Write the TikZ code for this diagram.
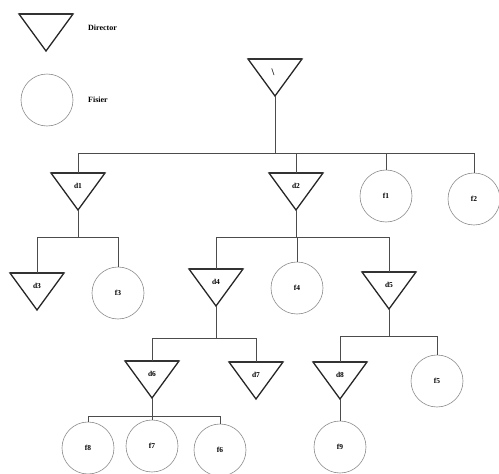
\documentclass[tikz,border=0pt]{standalone}
\usepackage{fontspec}
\setmainfont{Liberation Serif}
\tikzset{
  x=1pt, y=-1pt,
  dirtri/.style={draw=black!85, line width=1.3pt, line join=miter},
  dirtop/.style={draw=black!80, line width=2.2pt},
  conn/.style={draw=black!70, line width=0.9pt},
  fnode/.style={circle, draw=black!45, line width=0.6pt, minimum size=52pt, inner sep=0pt,
    font=\bfseries\fontsize{7.5}{9}\selectfont},
  lbl/.style={inner sep=0pt, font=\bfseries\fontsize{7.5}{9}\selectfont},
  legend/.style={anchor=west, inner sep=0pt, font=\bfseries\fontsize{8}{10}\selectfont}
}
% director: name, x, y of top edge, label
\newcommand\dirnode[4]{%
  \coordinate (#1-top) at (#2,#3);
  \coordinate (#1-tip) at (#2,#3+37);
  \draw[dirtri] (#2-27,#3) -- (#2+27,#3) -- (#1-tip) -- cycle;
  \draw[dirtop] (#2-27,#3) -- (#2+27,#3);
  \node[lbl] (#1) at (#2,#3+13) {#4};}
\begin{document}
\begin{tikzpicture}
\useasboundingbox (0,0) rectangle (499,474);

% legend
\dirnode{legdir}{46}{14}{}
\node[legend] (legdirtxt) at (88,28) {Director};
\node[fnode] (legfile) at (47,100) {};
\node[legend] (legfiletxt) at (88,100) {Fisier};

% directors
\dirnode{root}{275}{59}{}
\node[lbl, font=\bfseries\fontsize{10}{12}\selectfont] (rootlbl) at (273,72) {\textbackslash};
\dirnode{d1}{78}{173}{d1}
\dirnode{d2}{296}{173}{d2}
\dirnode{d3}{37}{273}{d3}
\dirnode{d4}{216}{269}{d4}
\dirnode{d5}{389}{272}{d5}
\dirnode{d6}{152}{361}{d6}
\dirnode{d7}{256}{362}{d7}
\dirnode{d8}{340}{362}{d8}

% files
\node[fnode] (f1) at (386,196) {f1};
\node[fnode] (f2) at (474,199) {f2};
\node[fnode] (f3) at (118,293) {f3};
\node[fnode] (f4) at (297,288) {f4};
\node[fnode] (f5) at (437,381) {f5};
\node[fnode] (f8) at (88,448) {f8};
\node[fnode] (f7) at (152,446) {f7};
\node[fnode] (f6) at (220,450) {f6};
\node[fnode] (f9) at (340,447) {f9};

% branch points
\coordinate (b0) at (275,153);
\coordinate (b1) at (78,237);
\coordinate (b2) at (296,237);
\coordinate (b4) at (216,338);
\coordinate (b5) at (389,336);
\coordinate (b6) at (152,416);

% connectors
\draw[conn] (root-tip) -- (b0);
\draw[conn] (b0) -| (d1-top);
\draw[conn] (b0) -| (d2-top);
\draw[conn] (b0) -| (f1.north);
\draw[conn] (b0) -| (f2.north);

\draw[conn] (d1-tip) -- (b1);
\draw[conn] (b1) -| (d3-top);
\draw[conn] (b1) -| (f3.north);

\draw[conn] (d2-tip) -- (b2);
\draw[conn] (b2) -| (d4-top);
\draw[conn] (b2) -| (f4.north);
\draw[conn] (b2) -| (d5-top);

\draw[conn] (d4-tip) -- (b4);
\draw[conn] (b4) -| (d6-top);
\draw[conn] (b4) -| (d7-top);

\draw[conn] (d5-tip) -- (b5);
\draw[conn] (b5) -| (d8-top);
\draw[conn] (b5) -| (f5.north);

\draw[conn] (d6-tip) -- (b6);
\draw[conn] (b6) -| (f8.north);
\draw[conn] (b6) -| (f7.north);
\draw[conn] (b6) -| (f6.north);

\draw[conn] (d8-tip) -- (f9.north);
\end{tikzpicture}
\end{document}
